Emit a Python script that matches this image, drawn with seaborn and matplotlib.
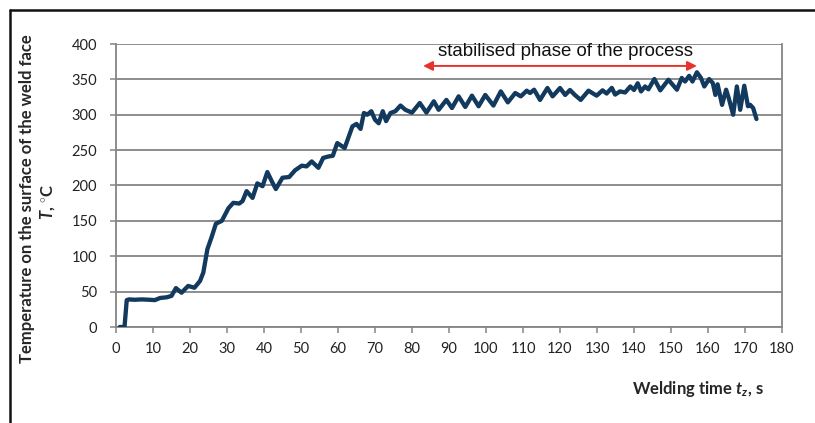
import matplotlib
matplotlib.use("Agg")
import matplotlib.pyplot as plt
from matplotlib.lines import Line2D
import seaborn as sns
import pandas as pd

# Surface temperature of the weld face during welding
time_s = [1, 2.3, 2.9, 3.5, 5, 7, 9, 10.5, 11.9, 13.7, 15, 16.2, 17.7, 19.5, 21.2, 22.7,
          23.6, 24.7, 25.9, 27, 28.6, 30.4, 31.7, 33.3, 34.2, 35.3, 36.9, 38.2, 39.6, 40.9,
          42.1, 43.2, 45, 46.8, 48.4, 50.2, 51.5, 52.9, 54.7, 56, 57.4, 58.6, 59.8, 61.8,
          63.9, 65, 66.1, 67, 67.9, 69, 70, 71, 72.1, 73, 74.2, 75.5, 76.9, 78.2, 80, 82.1,
          83.9, 85.9, 87.2, 89.3, 90.8, 92.6, 94.4, 96.2, 98, 99.8, 102, 104, 105.9, 107.9,
          109.4, 111, 111.9, 113, 114.6, 116.6, 118, 120, 121.4, 122.7, 124, 125.6, 127.7,
          129.9, 131.5, 132.6, 134, 134.9, 136.2, 137.6, 139, 140, 141, 141.9, 143, 143.9,
          145.5, 147.1, 149.3, 151.6, 152.9, 153.8, 154.9, 155.8, 157, 158.1, 159, 160.3,
          161.3, 162, 162.6, 163.8, 164.9, 165.6, 166.8, 167.8, 168.7, 169.8, 170.8, 171.4,
          172.2, 173.1]
temperature_c = [0, 0, 38, 39, 38.5, 39, 38.5, 38, 41, 42, 44, 55, 48.5, 58, 55.5, 65,
                 77, 110, 128, 146, 150, 168, 175.5, 174.5, 178, 192, 182.5, 203, 199, 219,
                 206, 195, 211, 212, 221.5, 228, 227, 234, 225, 239, 241, 242, 260, 253,
                 283.6, 287, 280, 302.5, 300, 305, 293, 288, 305, 291, 302.5, 305, 313, 307, 303, 316.6,
                 303, 319, 307, 321, 309.5, 326, 311, 327, 312, 328, 313, 333, 317.5, 330.7,
                 326, 334, 330.7, 335.4, 321, 337.8, 326, 337.8, 328, 335, 328, 321, 334,
                 327, 334.5, 330, 338, 328.5, 333, 331.5, 340, 335, 344.5, 333, 340, 336,
                 350.5, 334.5, 349.5, 335.4, 352, 347, 355, 347, 360, 352, 340, 350.5,
                 344.8, 328, 343, 314, 335.4, 323.6, 300, 340, 307, 341, 312, 314,
                 309.5, 294]

x_ticks = list(range(0, 181, 10))
y_ticks = list(range(0, 401, 50))

# stabilised phase marker
phase_start, phase_end, phase_level = 83, 157, 369
phase_label = "stabilised phase of the process"

sns.set_theme(style="white")
plt.rcParams["font.family"] = ["Lato", "DejaVu Sans"]
plt.rcParams["mathtext.fontset"] = "custom"
plt.rcParams["mathtext.it"] = "Lato:bold:italic"
plt.rcParams["mathtext.rm"] = "Lato:bold"
plt.rcParams["mathtext.bf"] = "Lato:bold"

df = pd.DataFrame({"t": time_s, "T": temperature_c})

fig = plt.figure(figsize=(8.15, 4.23), dpi=100)
ax = fig.add_axes([116 / 815, 1 - 327 / 423, 666 / 815, 283 / 423])

grid_col = "#858585"
for v in y_ticks:
    ax.axhline(v, color=grid_col, lw=1.3, zorder=1)

sns.lineplot(data=df, x="t", y="T", ax=ax, color="#12395e", lw=3.1,
             solid_joinstyle="round", solid_capstyle="round", zorder=3)

ax.set_xlim(0, 180)
ax.set_ylim(0, 400)
ax.set_xticks(x_ticks)
ax.set_yticks(y_ticks)
ax.set_xlabel("")
ax.set_ylabel("")
for side in ["left", "bottom", "right"]:
    ax.spines[side].set_color(grid_col)
    ax.spines[side].set_linewidth(1.3)
ax.spines["top"].set_visible(False)
ax.tick_params(axis="both", direction="out", length=4.5, width=1.1, color=grid_col,
               labelsize=10.5, labelcolor="#222222")
ax.tick_params(axis="x", pad=6, bottom=True)
ax.tick_params(axis="y", pad=9, left=True)

ax.annotate("", xy=(phase_start, phase_level), xytext=(phase_end, phase_level),
            arrowprops=dict(arrowstyle="<|-|>", color="#e8322c", lw=1.4,
                            mutation_scale=14, shrinkA=0, shrinkB=0))
ax.text((phase_start + phase_end) / 2 + 1.5, 389.5, phase_label, ha="center", va="center",
        fontsize=13.4, family="Liberation Sans", color="#111111")

fig.text(27 / 815, 1 - 199 / 423, "Temperature on the surface of the weld face",
         rotation=90, ha="center", va="center", fontsize=12, fontweight="bold")
fig.text(48 / 815, 1 - 202 / 423, r"$T$, $^{\circ}$C",
         rotation=90, ha="center", va="center", fontsize=12, fontweight="bold")
fig.text(764 / 815, 1 - 389 / 423, r"Welding time $t_z$, s",
         ha="right", va="center", fontsize=12, fontweight="bold")

# frame around the figure
fig.add_artist(Line2D([10 / 815, 1.0], [1 - 10 / 423, 1 - 10 / 423],
                      transform=fig.transFigure, color="#111111", lw=1.8))
fig.add_artist(Line2D([10 / 815, 10 / 815], [1 - 10 / 423, 0.0],
                      transform=fig.transFigure, color="#111111", lw=1.8))

fig.savefig("out.png", dpi=100)
